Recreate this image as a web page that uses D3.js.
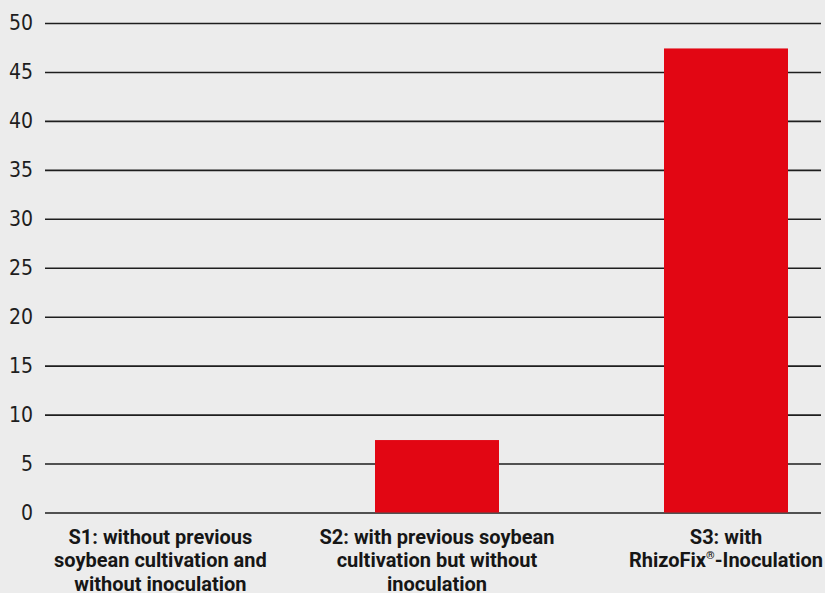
<!DOCTYPE html>
<html>
<head>
<meta charset="utf-8">
<script src="https://cdn.jsdelivr.net/npm/d3@7"></script>
<style>
  html, body { margin: 0; padding: 0; background: #ececec; }
  svg { display: block; }
</style>
</head>
<body>
<div id="wrapper"></div>
<script>
// DATA
const categories = ['S1', 'S2', 'S3']
const values = [0, 7.4, 47.4]
const labelLines = [
  ['S1: without previous', 'soybean cultivation and', 'without inoculation'],
  ['S2: with previous soybean', 'cultivation but without', 'inoculation'],
  ['S3: with', 'RhizoFix®-Inoculation']
]
const yTicks = [0, 5, 10, 15, 20, 25, 30, 35, 40, 45, 50]

function drawBarChart() {
  let dimensions = {
    width: 825,
    height: 593,
    margin: { top: 23, right: 4, bottom: 80.5, left: 45 }
  }
  dimensions.boundedWidth = dimensions.width - dimensions.margin.left - dimensions.margin.right
  dimensions.boundedHeight = dimensions.height - dimensions.margin.top - dimensions.margin.bottom

  const wrapper = d3.select('#wrapper')
    .append('svg')
    .attr('width', dimensions.width)
    .attr('height', dimensions.height)

  const bounds = wrapper.append('g')
    .attr('transform', `translate(${dimensions.margin.left}, ${dimensions.margin.top})`)

  // SCALES
  const yScale = d3.scaleLinear()
    .domain([0, 50])
    .range([dimensions.boundedHeight, 0])

  // bands run a bit past the plot on both sides, like the original
  const xScale = d3.scaleBand()
    .domain(categories)
    .range([-41.5, 825.5])
    .paddingInner(0.571)
    .paddingOuter(0.2855)

  // gridlines
  const yAxisGenerator = d3.axisLeft(yScale)
    .tickValues(yTicks)
    .tickSize(-dimensions.boundedWidth)
    .tickPadding(12)

  const yAxis = bounds.append('g')
    .call(yAxisGenerator)
  yAxis.select('.domain').remove()
  yAxis.selectAll('.tick line')
    .attr('stroke', '#1e1e1e')
    .attr('stroke-width', 1.6)
  yAxis.selectAll('.tick text')
    .attr('fill', '#1e1e1e')
    .attr('x', -12)
    .style('font-family', '"Liberation Sans Narrow", "DejaVu Sans Condensed", sans-serif')
    .style('font-weight', 300)
    .style('font-size', '21px')

  // bars
  bounds.selectAll('rect.bar')
    .data(categories)
    .join('rect')
    .attr('class', 'bar')
    .attr('x', d => xScale(d))
    .attr('width', xScale.bandwidth())
    .attr('y', (d, i) => yScale(values[i]))
    .attr('height', (d, i) => dimensions.boundedHeight - yScale(values[i]))
    .attr('fill', '#e20613')

  // category labels, kept inside the page
  const labels = bounds.append('g')
    .attr('transform', `translate(0, ${dimensions.boundedHeight})`)

  categories.forEach((c, i) => {
    const t = labels.append('text')
      .attr('text-anchor', 'middle')
      .attr('fill', '#161616')
      .style('font-family', 'Roboto, sans-serif')
      .style('font-weight', 700)
      .style('font-size', '20px')
    labelLines[i].forEach((line, j) => {
      const parts = line.split('®')
      parts.forEach((p, k) => {
        const ts = t.append('tspan').text(p)
        if (k === 0) ts.attr('x', 0).attr('y', 31 + j * 23.5)
        else ts.attr('dy', 8)
        if (k < parts.length - 1) {
          // small raised registered mark
          t.append('tspan')
            .attr('dy', -8)
            .style('font-size', '11px')
            .text('®')
        }
      })
    })
    const w = t.node().getBBox().width
    let cx = xScale(c) + xScale.bandwidth() / 2
    cx = Math.max(cx, 9 + w / 2)
    cx = Math.min(cx, dimensions.boundedWidth + dimensions.margin.right - w / 2)
    t.attr('transform', `translate(${cx}, 0)`)
  })
}

drawBarChart()
</script>
</body>
</html>
